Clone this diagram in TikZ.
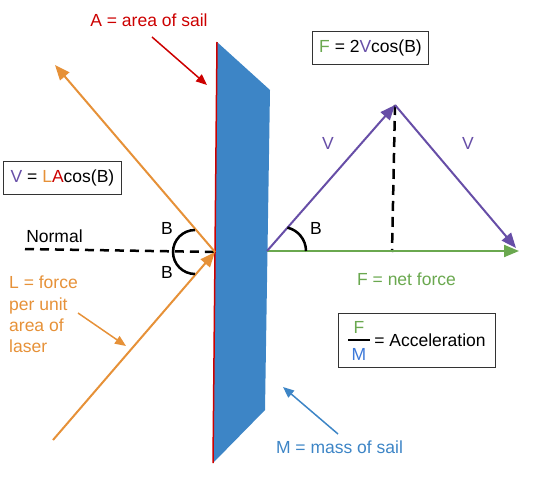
\documentclass[tikz,border=0pt]{standalone}
\usepackage{fontspec}
\setmainfont{Liberation Sans}
\usetikzlibrary{arrows.meta}
\definecolor{cpurple}{HTML}{674EA7}
\definecolor{cgreen}{HTML}{6AA84F}
\definecolor{corange}{HTML}{E69138}
\definecolor{cred}{HTML}{CC0000}
\definecolor{cblue}{HTML}{3D85C6}
\definecolor{cmblue}{HTML}{3C78D8}
\begin{document}
\begin{tikzpicture}[x=1pt,y=-1pt,
  font=\fontsize{17.5}{21.3}\selectfont,
  txt/.style={inner sep=0pt},
  eqbox/.style={draw=black!80, line width=1pt, inner xsep=7pt, inner ysep=8pt},
  bigarr/.style={line width=2pt, -{Triangle[length=15pt,width=12pt]}},
  ptr/.style={line width=1.5pt, -{Triangle[length=11pt,width=9pt]}},
  dash line/.style={line width=2.5pt, dash pattern=on 9pt off 6pt},
  angarc/.style={line width=2.5pt}]
\useasboundingbox (0,0) rectangle (540,479);

% sail
\fill[cblue] (217,42) -- (270,90) -- (265,410) -- (213,463) -- cycle;
\draw[cred, line width=1.5pt] (217,42) -- (213,463);

% key points
\coordinate (R) at (215,252);
\coordinate (U) at (55,65);
\coordinate (Lo) at (53,440);
\coordinate (Nl) at (25,249);
\coordinate (P) at (267,251);
\coordinate (T) at (395,105);
\coordinate (Tb) at (392,252);
\coordinate (E) at (519,251);
\coordinate (Ev) at (516,248);

% normal
\draw[dash line] (Nl) -- (R);
\node[txt] (normal) at (54.5,236) {Normal};

% laser rays
\draw[bigarr, corange] (R) -- (U);
\draw[bigarr, corange] (Lo) -- (R);

% left angle arcs
\draw[angarc] (195,230) arc[start angle=-90, end angle=-270, radius=22];
\node[txt] (bl1) at (167,228) {B};
\node[txt] (bl2) at (167,272) {B};

% V box
\node[eqbox] (vbox) at (62.5,178) {\textcolor{cpurple}{V} = \textcolor{corange}{L}\textcolor{cred}{A}cos(B)};

% A label
\node[txt, text=cred] (alabel) at (149,20) {A = area of sail};
\coordinate (as) at (152,37);
\coordinate (ae) at (207,85);
\draw[ptr, cred] (as) -- (ae);

% L label
\node[txt, text=corange, align=left, anchor=north west] (llabel) at (9,276) {L = force\\per unit\\area of\\laser};
\coordinate (ls) at (78,313);
\coordinate (le) at (126,346);
\draw[ptr, corange] (ls) -- (le);

% right side vectors
\draw[dash line, dash pattern=on 10pt off 6pt] (T) -- (Tb);
\draw[bigarr, cgreen] (P) -- (E);
\draw[bigarr, cpurple] (P) -- (T);
\draw[bigarr, cpurple] (T) -- (Ev);
\draw[angarc] (306,251) arc[start angle=0, end angle=-77, radius=24];
\node[txt] (br) at (316,228) {B};
\node[txt, text=cpurple] (v1) at (328,143) {V};
\node[txt, text=cpurple] (v2) at (468,143) {V};

% F box
\node[eqbox] (fbox) at (370.5,48) {\textcolor{cgreen}{F} = 2\textcolor{cpurple}{V}cos(B)};
\node[txt, text=cgreen] (fnet) at (406.5,279) {F = net force};

% acceleration box
\node[draw=black!80, line width=1pt, minimum width=157pt, minimum height=54pt, inner sep=0pt] (accbox) at (416.5,340) {};
\node[txt, text=cgreen] (fr1) at (359,327) {F};
\node[txt, text=cmblue] (fr2) at (359,354) {M};
\coordinate (bar1) at (348,340);
\coordinate (bar2) at (370,340);
\draw[line width=1.5pt] (bar1) -- (bar2);
\node[txt] (acc) at (430,340) {= Acceleration};

% M label
\node[txt, text=cblue] (mlabel) at (339.5,447) {M = mass of sail};
\coordinate (ms) at (338,434);
\coordinate (me) at (283,387);
\draw[ptr, cblue] (ms) -- (me);
\end{tikzpicture}
\end{document}
